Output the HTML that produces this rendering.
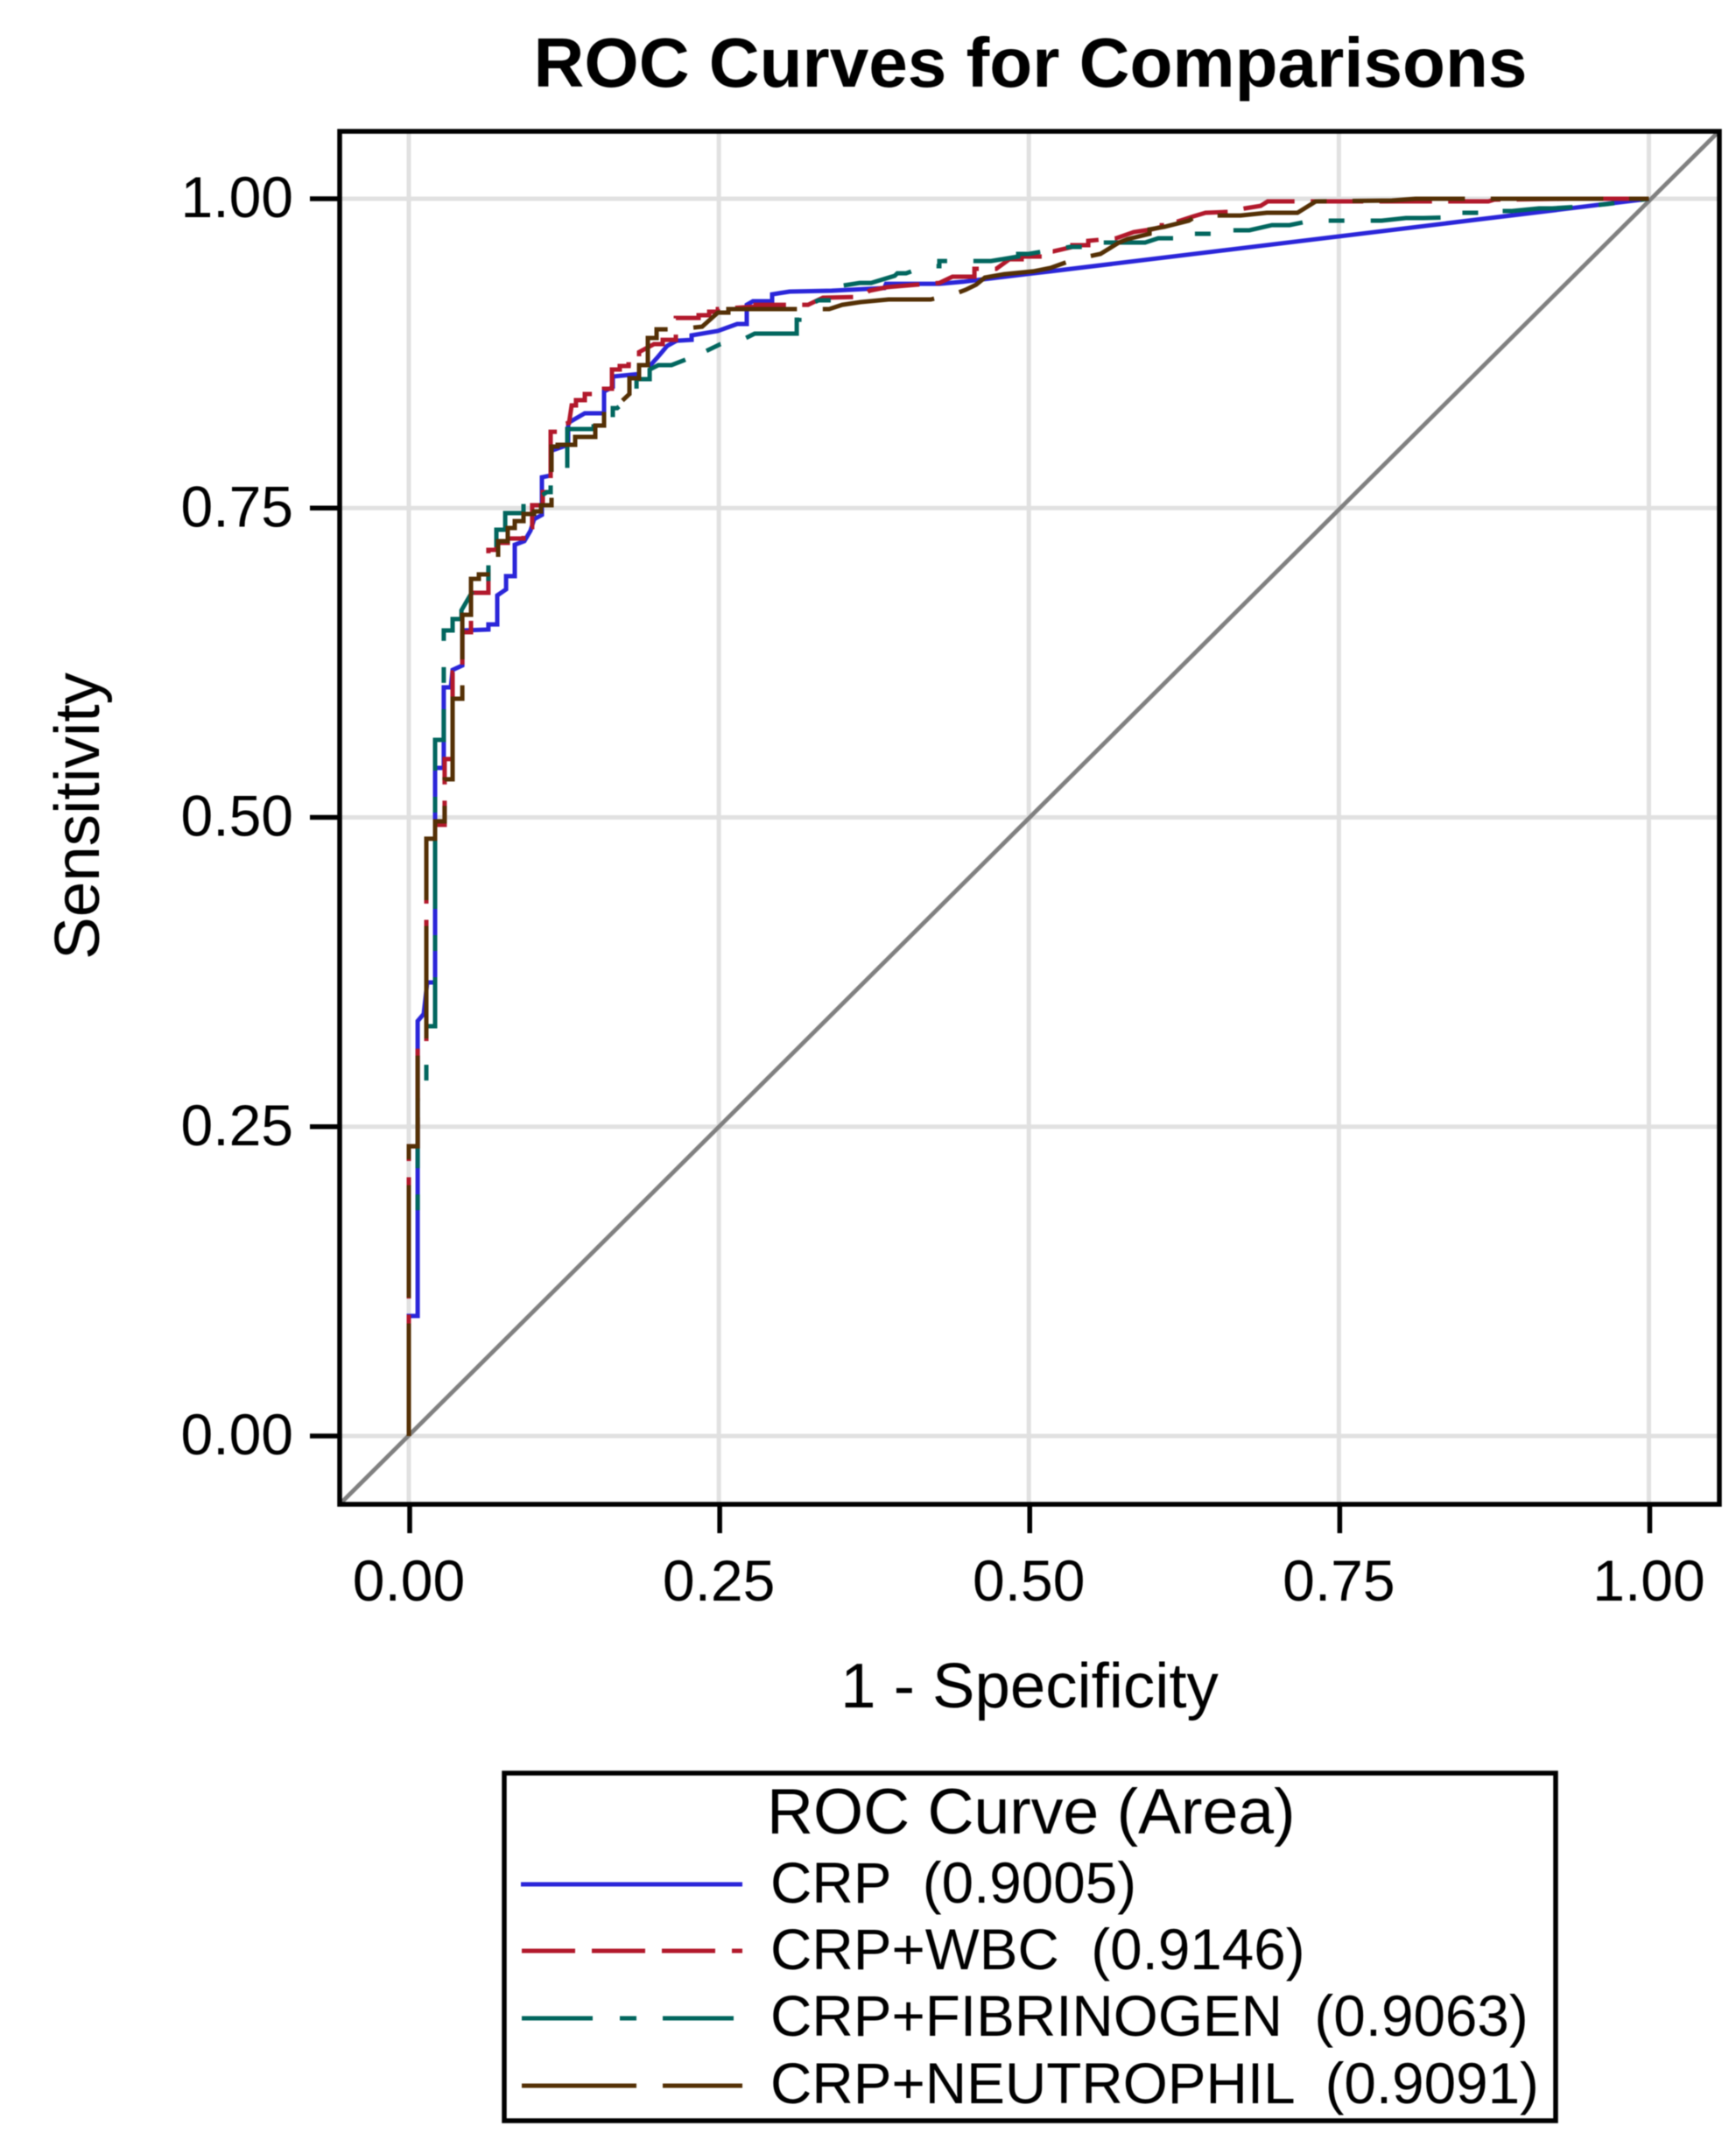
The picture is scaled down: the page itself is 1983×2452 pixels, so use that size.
<!DOCTYPE html>
<html lang="en">
<head>
<meta charset="utf-8">
<title>ROC Curves for Comparisons</title>
<style>
html,body{margin:0;padding:0;background:#fff;}
svg{display:block;filter:blur(0.6px);}
text{font-family:"Liberation Sans",Arial,sans-serif;fill:#000;white-space:pre;}
</style>
</head>
<body>
<svg id="chart" xmlns="http://www.w3.org/2000/svg" width="1983" height="2452" viewBox="0 0 1983 2452">
  <rect x="0" y="0" width="1983" height="2452" fill="#fff"/>
  <text x="1177" y="99" text-anchor="middle" font-size="80.1" font-weight="bold">ROC Curves for Comparisons</text>
  <g id="grid"></g>
  <g id="plot"></g>
  <rect x="388" y="150" width="1576" height="1568" fill="none" stroke="#000" stroke-width="5.5"/>
  <g id="axes"></g>
  <text x="1176" y="1950" text-anchor="middle" font-size="72.6">1 - Specificity</text>
  <text transform="translate(113 932) rotate(-90)" text-anchor="middle" font-size="72.8">Sensitivity</text>
  <g>
    <rect x="576" y="2025" width="1201" height="397" fill="#fff" stroke="#000" stroke-width="5.5"/>
    <text x="876" y="2094" font-size="73.4">ROC Curve (Area)</text>
    <line x1="595" y1="2152" x2="848" y2="2152" stroke="#2A25D9" stroke-width="5"/>
    <text x="880" y="2173" font-size="65.6">CRP  (0.9005)</text>
    <line x1="596" y1="2228" x2="848" y2="2228" stroke="#B2182B" stroke-width="5" stroke-dasharray="61 19"/>
    <text x="880" y="2249" font-size="65.6">CRP+WBC  (0.9146)</text>
    <line x1="596" y1="2305" x2="838" y2="2305" stroke="#01665E" stroke-width="5" stroke-dasharray="81 31 19 30"/>
    <text x="880" y="2325" font-size="65.6">CRP+FIBRINOGEN  (0.9063)</text>
    <line x1="596" y1="2382" x2="848" y2="2382" stroke="#543005" stroke-width="5" stroke-dasharray="131 30"/>
    <text x="880" y="2402" font-size="65.6">CRP+NEUTROPHIL  (0.9091)</text>
  </g>
</svg>
<script>
const xTicks = [0, 0.25, 0.5, 0.75, 1];
const yTicks = [0, 0.25, 0.5, 0.75, 1];
const tickLabels = ["0.00", "0.25", "0.50", "0.75", "1.00"];
const refLineX = [-0.0558, 1.0565];
const refLineY = [-0.0552, 1.0545];

const crpX = [0,0,.0071,.0071,.0120,.0148,.0212,.0212,.0282,.0282,.0339,.0353,.0431,.0431,.0642,.0642,.0713,.0713,.0784,.0784,.0854,.0854,.0932,.0981,.1010,.1073,.1073,.1144,.1144,.1285,.1285,.1419,.1574,.1574,.1645,.1645,.1857,.1857,.1949,.2012,.2083,.2160,.2280,.2280,.2492,.2648,.2725,.2725,.2775,.2930,.2930,.3071,.3410,.3834,.3848,.4278,.4469,.4631,.5034,.5175,1];
const crpY = [0,.0970,.0970,.3354,.3411,.3666,.3666,.5400,.5400,.6051,.6051,.6192,.6228,.6511,.6518,.6560,.6560,.6794,.6843,.6950,.6950,.7204,.7233,.7318,.7410,.7445,.7749,.7763,.7962,.8011,.8188,.8266,.8266,.8443,.8478,.8563,.8584,.8655,.8655,.8726,.8811,.8853,.8860,.8896,.8931,.8988,.8988,.9143,.9172,.9172,.9228,.9250,.9257,.9278,.9313,.9313,.9329,.9349,.9398,.9413,1];

const wbcX = [0,0,.0071,.0071,.0141,.0141,.0212,.0212,.0289,.0289,.0353,.0353,.0431,.0431,.0501,.0501,.0642,.0642,.0706,.0706,.0798,.0798,.0925,.0925,.0995,.0995,.1080,.1080,.1144,.1144,.1214,.1214,.1292,.1313,.1348,.1348,.1419,.1419,.1490,.1490,.1574,.1574,.1638,.1638,.1701,.1701,.1772,.1772,.1857,.1857,.1977,.1977,.2047,.2047,.2153,.2153,.2182,.2337,.2337,.2422,.2422,.2492,.2492,.2796,.2796,.3219,.3339,.3643,.3714,.3855,.4095,.4278,.4384,.4561,.4561,.4737,.4843,.4942,.4942,.5126,.5126,.5196,.5351,.5351,.5479,.5479,.5704,.5846,.5987,.6072,.6072,.6199,.6326,.6425,.6608,.6742,.6869,.6926,.8705,.8754,.9376,1];
const wbcY = [0,.2342,.2342,.3142,.3142,.4749,.4749,.4940,.4940,.5471,.5471,.6171,.6171,.6497,.6497,.6815,.6815,.7162,.7162,.7219,.7219,.7254,.7254,.7346,.7346,.7523,.7523,.7629,.7629,.8117,.8117,.8174,.8188,.8330,.8330,.8372,.8372,.8422,.8422,.8450,.8450,.8464,.8464,.8620,.8620,.8648,.8648,.8662,.8662,.8761,.8825,.8825,.8825,.8860,.8860,.9037,.9037,.9037,.9059,.9059,.9087,.9087,.9108,.9129,.9143,.9143,.9200,.9207,.9257,.9285,.9306,.9320,.9370,.9370,.9434,.9434,.9511,.9511,.9533,.9533,.9575,.9575,.9611,.9625,.9625,.9660,.9681,.9731,.9752,.9773,.9816,.9816,.9858,.9887,.9894,.9922,.9943,.9979,.9979,.9993,1,1];

const fibX = [0,0,.0071,.0071,.0141,.0141,.0212,.0212,.0282,.0282,.0353,.0353,.0424,.0424,.0515,.0642,.0642,.0706,.0706,.0777,.0777,.0925,.0925,.1045,.1115,.1144,.1144,.1278,.1278,.1490,.1490,.1645,.1645,.1680,.1836,.1836,.1942,.1942,.2012,.2118,.2280,.2280,.2365,.2513,.2704,.2789,.3008,.3128,.3128,.3149,.3149,.3304,.3431,.3431,.3502,.3636,.3728,.3918,.3939,.4010,.4172,.4278,.4278,.4695,.4914,.4914,.4998,.5196,.5330,.5563,.5563,.5704,.5937,.6043,.6283,.6283,.6636,.6636,.6778,.6961,.7102,.7279,.7844,.8041,.8183,.8408,.8408,.8634,.8634,.8896,.9114,.9220,.9446,.9658,1];
const fibY = [0,.1677,.1677,.2732,.2732,.3312,.3312,.5626,.5626,.6511,.6511,.6603,.6603,.6674,.6829,.6829,.7091,.7091,.7325,.7325,.7459,.7459,.7587,.7587,.7629,.7629,.7714,.7806,.8139,.8139,.8223,.8223,.8308,.8308,.8436,.8542,.8542,.8620,.8655,.8655,.8719,.8754,.8754,.8825,.8868,.8910,.8910,.8910,.9023,.9023,.9108,.9179,.9179,.9285,.9299,.9320,.9320,.9377,.9398,.9398,.9455,.9455,.9497,.9497,.9533,.9554,.9554,.9589,.9611,.9611,.9646,.9646,.9646,.9681,.9681,.9717,.9717,.9745,.9745,.9787,.9787,.9823,.9823,.9844,.9844,.9851,.9887,.9887,.9901,.9901,.9922,.9922,.9936,.9957,1];

const neuX = [0,0,.0071,.0071,.0141,.0141,.0212,.0212,.0289,.0289,.0353,.0353,.0431,.0431,.0501,.0501,.0565,.0565,.0720,.0720,.0798,.0798,.0854,.0854,.0925,.0925,.1010,.1010,.1066,.1066,.1151,.1151,.1200,.1200,.1341,.1341,.1504,.1504,.1574,.1574,.1666,.1779,.1779,.1857,.1857,.1927,.1927,.1998,.1998,.2160,.2365,.2492,.2577,.2577,.3149,.3389,.3495,.3643,.3869,.4208,.4413,.4490,.4575,.4645,.4801,.5034,.5175,.5351,.5443,.5577,.5648,.5726,.5796,.5973,.5973,.6093,.6290,.6361,.6707,.6919,.7166,.7314,.7928,.8119,1];
const neuY = [0,.2342,.2342,.3142,.3142,.4827,.4827,.4968,.4968,.5308,.5308,.5959,.5959,.6638,.6638,.6928,.6928,.6964,.6964,.7233,.7233,.7339,.7339,.7395,.7395,.7452,.7452,.7473,.7473,.7523,.7523,.7997,.7997,.8011,.8011,.8075,.8075,.8167,.8167,.8316,.8316,.8422,.8549,.8549,.8655,.8655,.8875,.8875,.8945,.8945,.8966,.9080,.9080,.9108,.9108,.9108,.9143,.9165,.9186,.9186,.9235,.9264,.9306,.9363,.9391,.9413,.9441,.9504,.9526,.9554,.9597,.9646,.9674,.9717,.9752,.9773,.9823,.9865,.9865,.9887,.9887,.9979,.9986,1,1];

const X0 = 467, X1 = 1883.5, Y0 = 1640, Y1 = 227;
function xScale(v){ return X0 + v * (X1 - X0); }
function yScale(v){ return Y0 - v * (Y0 - Y1); }
const NS = "http://www.w3.org/2000/svg";
const grid = document.getElementById("grid");
const plot = document.getElementById("plot");
const axes = document.getElementById("axes");

xTicks.forEach(function(t, i){
  const g = document.createElementNS(NS, "line");
  
  
  g.setAttribute("x1", xScale(t)); g.setAttribute("x2", xScale(t));
  g.setAttribute("y1", 150); g.setAttribute("y2", 1718);
  g.setAttribute("stroke", "#e1e1e1"); g.setAttribute("stroke-width", 5);
  grid.appendChild(g);

  const tick = document.createElementNS(NS, "line");
  
  
  tick.setAttribute("x1", xScale(t) + 1); tick.setAttribute("x2", xScale(t) + 1);
  tick.setAttribute("y1", 1718); tick.setAttribute("y2", 1751);
  tick.setAttribute("stroke", "#000"); tick.setAttribute("stroke-width", 5.5);
  axes.appendChild(tick);

  const label = document.createElementNS(NS, "text");
  
  
  label.setAttribute("x", xScale(t)); label.setAttribute("y", 1828);
  label.setAttribute("text-anchor", "middle"); label.setAttribute("font-size", 66);
  label.textContent = tickLabels[i];
  axes.appendChild(label);
});

yTicks.forEach(function(t, i){
  const g = document.createElementNS(NS, "line");
  
  
  g.setAttribute("x1", 388); g.setAttribute("x2", 1964);
  g.setAttribute("y1", yScale(t)); g.setAttribute("y2", yScale(t));
  g.setAttribute("stroke", "#e1e1e1"); g.setAttribute("stroke-width", 5);
  grid.appendChild(g);

  const tick = document.createElementNS(NS, "line");
  
  
  tick.setAttribute("x1", 354); tick.setAttribute("x2", 388);
  tick.setAttribute("y1", yScale(t)); tick.setAttribute("y2", yScale(t));
  tick.setAttribute("stroke", "#000"); tick.setAttribute("stroke-width", 5.5);
  axes.appendChild(tick);

  const label = document.createElementNS(NS, "text");
  
  
  label.setAttribute("x", 335); label.setAttribute("y", yScale(t) + 21);
  label.setAttribute("text-anchor", "end"); label.setAttribute("font-size", 66);
  label.textContent = tickLabels[i];
  axes.appendChild(label);
});

const ref = document.createElementNS(NS, "line");


ref.setAttribute("x1", xScale(refLineX[0])); ref.setAttribute("y1", yScale(refLineY[0]));
ref.setAttribute("x2", xScale(refLineX[1])); ref.setAttribute("y2", yScale(refLineY[1]));
ref.setAttribute("stroke", "#808080"); ref.setAttribute("stroke-width", 4.8);
plot.appendChild(ref);

function points(xs, ys){
  return xs.map(function(x, i){ return xScale(x).toFixed(1) + "," + yScale(ys[i]).toFixed(1); }).join(" ");
}

const crpLine = document.createElementNS(NS, "polyline");


crpLine.setAttribute("points", points(crpX, crpY));
crpLine.setAttribute("fill", "none"); crpLine.setAttribute("stroke", "#2A25D9"); crpLine.setAttribute("stroke-width", 5);
plot.appendChild(crpLine);

const wbcLine = document.createElementNS(NS, "polyline");


wbcLine.setAttribute("points", points(wbcX, wbcY));
wbcLine.setAttribute("fill", "none"); wbcLine.setAttribute("stroke", "#B2182B"); wbcLine.setAttribute("stroke-width", 5);
wbcLine.setAttribute("stroke-dasharray", "60 18.5");
plot.appendChild(wbcLine);

const fibLine = document.createElementNS(NS, "polyline");


fibLine.setAttribute("points", points(fibX, fibY));
fibLine.setAttribute("fill", "none"); fibLine.setAttribute("stroke", "#01665E"); fibLine.setAttribute("stroke-width", 5);
fibLine.setAttribute("stroke-dasharray", "80 30 18 30");
plot.appendChild(fibLine);

const neuLine = document.createElementNS(NS, "polyline");


neuLine.setAttribute("points", points(neuX, neuY));
neuLine.setAttribute("fill", "none"); neuLine.setAttribute("stroke", "#543005"); neuLine.setAttribute("stroke-width", 5);
neuLine.setAttribute("stroke-dasharray", "128.5 29.5");
plot.appendChild(neuLine);
</script>
</body>
</html>
